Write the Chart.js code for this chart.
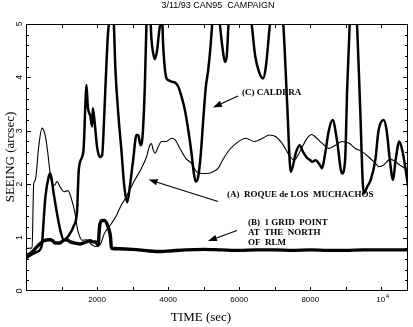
<!DOCTYPE html>
<html><head><meta charset="utf-8">
<script src="https://cdn.jsdelivr.net/npm/chart.js@4/dist/chart.umd.min.js"></script>
<style>html,body{margin:0;padding:0;background:#fff;}#wrap{width:413px;height:327px;}</style>
</head><body><div id="wrap"><canvas id="c" width="413" height="327"></canvas></div>
<script>
const titleText = "3/11/93 CAN95  CAMPAIGN";
const xTitle = "TIME (sec)";
const yTitle = "SEEING (arcsec)";
const xTickValues = [2000, 4000, 6000, 8000, 10000];
const xTickLabels = ["2000", "4000", "6000", "8000", "10^4"];
const yTickValues = [0, 1, 2, 3, 4, 5];
const yTickLabels = ["0", "1", "2", "3", "4", "5"];

// (A) Roque de los Muchachos - thin line
const timeA = [0,100,170,217,263,357,451,545,611,680,733,800,873,960,1060,1180,1280,1380,1437,1480,1578,1700,1860,2000,2100,2200,2400,2550,2658,2827,3062,3250,3390,3485,3530,3580,3630,3720,3813,3950,4095,4200,4330,4500,4658,4800,4950,5080,5250,5410,5532,5720,5907,6050,6189,6424,6659,6847,7035,7222,7400,7550,7700,7900,8048,8150,8330,8518,8705,8893,9081,9268,9456,9644,9832,9926,10067,10255,10396,10584,10750];
const seeingA = [0.8,0.8,0.81,2.0,2.08,2.7,3.05,2.9,2.6,2.2,2.0,1.98,2.05,1.95,1.86,1.88,1.72,1.45,1.2,1.08,0.95,0.96,0.86,0.83,0.88,1.07,1.26,1.42,1.58,1.77,2.08,2.3,2.51,2.73,2.76,2.64,2.58,2.7,2.8,2.8,2.86,2.83,2.67,2.48,2.39,2.23,2.2,2.2,2.23,2.3,2.45,2.64,2.76,2.83,2.86,2.8,2.86,2.92,2.89,2.75,2.55,2.45,2.6,2.85,2.93,2.88,2.77,2.67,2.73,2.8,2.77,2.67,2.61,2.51,2.39,2.33,2.36,2.47,2.42,2.33,2.27];

// (B) 1 grid point at the north of RLM - thickest line
const timeB = [0,29,120,217,311,405,500,667,730,827,949,1062,1137,1250,1437,1512,1620,1813,1887,1953,2028,2076,2150,2216,2310,2377,2405,2600,3000,3480,3800,4050,4500,5000,5500,6000,6500,7000,7500,8000,8500,9000,9500,10000,10500,10750];
const seeingB = [0.63,0.67,0.7,0.76,0.83,0.89,0.94,0.96,0.95,0.9,0.9,0.95,0.96,0.92,0.89,0.88,0.9,0.94,0.92,0.92,0.86,1.24,1.32,1.32,1.2,1.02,0.8,0.79,0.78,0.75,0.74,0.75,0.77,0.78,0.77,0.76,0.77,0.77,0.76,0.77,0.76,0.76,0.77,0.77,0.77,0.77];

// (C) Caldera - thick spiky line
const timeC = [0,150,300,400,452,498,545,639,686,780,874,968,1062,1203,1344,1437,1484,1578,1625,1672,1700,1740,1813,1860,1880,1926,2000,2076,2142,2189,2236,2301,2340,2400,2472,2517,2611,2686,2760,2846,2921,3015,3109,3160,3221,3280,3344,3390,3460,3532,3580,3626,3690,3740,3785,3820,3860,3954,4000,4095,4200,4283,4377,4471,4565,4658,4724,4780,4846,4921,4987,5062,5128,5193,5240,5350,5456,5540,5600,5650,5700,6000,6349,6450,6560,6670,6750,6865,7050,7240,7350,7451,7600,7700,7800,7900,8000,8050,8150,8250,8330,8420,8520,8630,8750,8893,8980,9040,9110,9220,9316,9400,9504,9600,9700,9830,9920,10066,10150,10240,10330,10400,10508,10600,10700,10750];
const seeingC = [0.61,0.68,0.73,0.78,0.89,1.33,1.76,2.14,2.2,1.82,1.45,1.13,0.96,1.04,1.22,1.5,2.26,2.51,2.7,3.51,3.86,3.45,3.27,3.08,3.42,3.2,2.7,2.51,2.54,3.08,3.83,4.76,5.07,5.6,5.0,4.14,3.2,2.63,2.0,1.66,1.95,2.45,2.92,2.92,2.73,2.9,3.83,5.0,5.6,4.7,4.45,4.34,4.51,4.82,5.05,5.3,4.6,3.98,3.95,3.92,3.9,3.83,3.64,3.39,3.02,2.58,2.2,2.05,2.14,2.58,3.2,3.83,4.14,4.58,5.0,5.8,5.0,4.5,4.29,4.4,5.0,6.5,5.0,4.4,4.1,3.98,4.2,5.0,6.0,5.0,3.5,2.23,2.6,2.73,2.6,2.5,2.45,2.42,2.45,2.38,2.3,2.58,3.0,3.2,2.83,2.2,2.45,3.83,5.0,6.0,5.0,3.5,1.83,1.95,2.08,2.45,3.0,3.2,3.0,2.45,2.08,2.45,2.8,2.6,2.2,1.97];

const annotations = [
  {lines: ["(C) CALDERA"], x: 242, y: 92.5, from: [238, 96], to: [213, 107.5]},
  {lines: ["(A)  ROQUE de LOS  MUCHACHOS"], x: 227, y: 194.5, from: [218, 201.5], to: [148.5, 179.5]},
  {lines: ["(B)  1 GRID  POINT", "AT  THE  NORTH", "OF  RLM"], x: 248, y: 223, from: [237, 230.5], to: [208, 241]}
];

function pts(t, v) { return t.map((x, i) => ({x: x, y: v[i]})); }

const SERIF = '"Liberation Serif", "Times New Roman", serif';
const SANS = '"Liberation Sans", Arial, sans-serif';

function arrow(ctx, from, to) {
  const ang = Math.atan2(to[1] - from[1], to[0] - from[0]);
  const L = 9, W = 3.2;
  const bx = to[0] - L * Math.cos(ang), by = to[1] - L * Math.sin(ang);
  ctx.beginPath();
  ctx.moveTo(from[0], from[1]);
  ctx.lineTo(bx, by);
  ctx.lineWidth = 1.1;
  ctx.stroke();
  ctx.beginPath();
  ctx.moveTo(to[0], to[1]);
  ctx.lineTo(bx + W * Math.sin(ang), by - W * Math.cos(ang));
  ctx.lineTo(bx - W * Math.sin(ang), by + W * Math.cos(ang));
  ctx.closePath();
  ctx.fill();
}

const decor = {
  id: 'decor',
  afterDraw(chart) {
    const ctx = chart.ctx, a = chart.chartArea;
    const xs = chart.scales.x, ys = chart.scales.y;
    ctx.save();
    ctx.strokeStyle = '#000'; ctx.fillStyle = '#000';
    ctx.lineWidth = 1;
    ctx.strokeRect(a.left + 0.5, a.top + 0.5, a.right - a.left - 1, a.bottom - a.top - 1);
    // x ticks (every 1000), inward on bottom and top
    ctx.beginPath();
    for (let t = 1000; t < xs.max; t += 1000) {
      const px = Math.round(xs.getPixelForValue(t)) + 0.5;
      ctx.moveTo(px, a.bottom); ctx.lineTo(px, a.bottom - 4);
      ctx.moveTo(px, a.top); ctx.lineTo(px, a.top + 4);
    }
    // y ticks every 0.2, inward on left and right
    for (let i = 1; i < 25; i++) {
      const py = Math.round(ys.getPixelForValue(i / 5)) + 0.5;
      const len = (i % 5 === 0) ? 5 : 3;
      ctx.moveTo(a.left, py); ctx.lineTo(a.left + len, py);
      ctx.moveTo(a.right, py); ctx.lineTo(a.right - len, py);
    }
    ctx.stroke();
    // x tick labels
    ctx.font = '8px ' + SANS;
    ctx.textBaseline = 'middle';
    xTickValues.forEach((v, i) => {
      const px = xs.getPixelForValue(v);
      const lab = xTickLabels[i];
      if (lab.indexOf('^') >= 0) {
        const parts = lab.split('^');
        ctx.font = '8px ' + SANS;
        const w1 = ctx.measureText(parts[0]).width;
        ctx.font = '6px ' + SANS;
        const w2 = ctx.measureText(parts[1]).width;
        const x0 = px - (w1 + w2) / 2 + 1;
        ctx.textAlign = 'left';
        ctx.font = '8px ' + SANS;
        ctx.fillText(parts[0], x0, 300);
        ctx.font = '6px ' + SANS;
        ctx.fillText(parts[1], x0 + w1 + 0.5, 296);
      } else {
        ctx.textAlign = 'center';
        ctx.font = '8px ' + SANS;
        ctx.fillText(lab, px, 300);
      }
    });
    // y tick labels (rotated)
    ctx.font = '8.5px ' + SANS;
    yTickValues.forEach((v, i) => {
      const py = ys.getPixelForValue(v);
      ctx.save();
      ctx.translate(20, py);
      ctx.rotate(-Math.PI / 2);
      ctx.textAlign = 'center'; ctx.textBaseline = 'middle';
      ctx.fillText(yTickLabels[i], 0, 0);
      ctx.restore();
    });
    // axis titles
    ctx.font = '13px ' + SERIF;
    ctx.textAlign = 'center'; ctx.textBaseline = 'middle';
    ctx.fillText(xTitle, 201, 318);
    ctx.save();
    ctx.translate(10.5, 157);
    ctx.rotate(-Math.PI / 2);
    ctx.fillText(yTitle, 0, 0);
    ctx.restore();
    // chart title
    ctx.font = '9px ' + SANS;
    ctx.fillText(titleText, 218, 6);
    // annotations
    ctx.font = 'bold 9px ' + SERIF;
    ctx.textAlign = 'left';
    annotations.forEach(an => {
      an.lines.forEach((ln, k) => ctx.fillText(ln, an.x, an.y + k * 9.6));
      arrow(ctx, an.from, an.to);
    });
    ctx.restore();
  }
};

new Chart(document.getElementById('c'), {
  type: 'line',
  data: {
    datasets: [
      {label: '(B) 1 grid point at the north of RLM', data: pts(timeB, seeingB), borderColor: '#000', borderWidth: 3.4, pointRadius: 0, cubicInterpolationMode: 'monotone', clip: 0},
      {label: '(A) Roque de los Muchachos', data: pts(timeA, seeingA), borderColor: '#000', borderWidth: 1.1, pointRadius: 0, cubicInterpolationMode: 'monotone', clip: 0},
      {label: '(C) Caldera', data: pts(timeC, seeingC), borderColor: '#000', borderWidth: 2.5, pointRadius: 0, cubicInterpolationMode: 'monotone', clip: 0}
    ]
  },
  options: {
    responsive: false,
    animation: false,
    devicePixelRatio: 1,
    layout: {padding: {left: 26, right: 5, top: 24, bottom: 36}},
    plugins: {legend: {display: false}, tooltip: {enabled: false}, title: {display: false}},
    scales: {
      x: {type: 'linear', min: 0, max: 10750, display: false},
      y: {type: 'linear', min: 0, max: 5, display: false}
    }
  },
  plugins: [decor]
});
</script>
</body></html>
